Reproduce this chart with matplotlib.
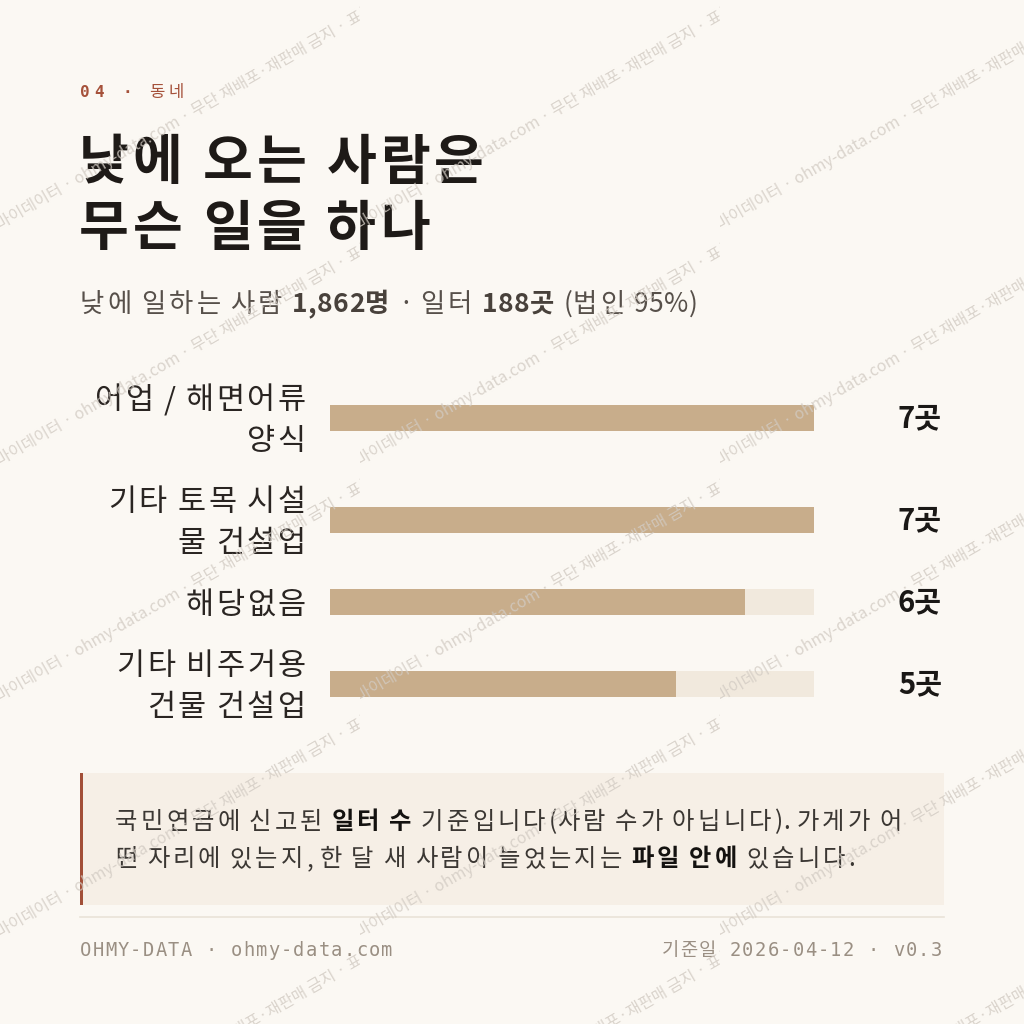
import matplotlib
matplotlib.use('Agg')
import matplotlib.pyplot as plt
from matplotlib.patches import Rectangle
from matplotlib.transforms import Bbox

KR = ['Noto Sans CJK KR', 'DejaVu Sans']
MONO = ['DejaVu Sans Mono', 'Noto Sans CJK KR']

# ---- data ----
section_no = '04'
section_name = '동네'
title_lines = ['낮에 오는 사람은', '무슨 일을 하나']
subtitle_runs = [('낮에 일하는 사람 ', 'normal'), ('1,862명', 'bold'),
                 (' · 일터 ', 'normal'), ('188곳', 'bold'), (' (법인 95%)', 'normal')]
categories = ['어업 / 해면어류\n양식', '기타 토목 시설\n물 건설업', '해당없음', '기타 비주거용\n건물 건설업']
counts = [7, 7, 6, 5]
unit = '곳'
note_lines = [
    [('국민연금에 신고된 ', 'normal'), ('일터 수', 'bold'),
     (' 기준입니다(사람 수가 아닙니다). 가게가 어', 'normal')],
    [('떤 자리에 있는지, 한 달 새 사람이 늘었는지는 ', 'normal'), ('파일 안에', 'bold'),
     (' 있습니다.', 'normal')],
]
footer_left = 'OHMY-DATA · ohmy-data.com'
footer_right = '기준일 2026-04-12 · v0.3'
watermark = '마이데이터 · ohmy-data.com · 무단 재배포·재판매 금지 · 표본'

# ---- colours ----
BG = '#fbf8f3'
RUST = '#a5513a'
INK = '#1e1a17'
TRACK = '#f1e9dd'
FILL = '#c8ad8b'
NOTE_BG = '#f6efe6'
MUTED = '#9a8f83'

fig = plt.figure(figsize=(10.24, 10.24), dpi=100)
fig.patch.set_facecolor(BG)

# full-figure canvas in pixel coordinates (y down)
bg = fig.add_axes([0, 0, 1, 1], zorder=0)
bg.set_xlim(0, 1024)
bg.set_ylim(1024, 0)
bg.axis('off')
bg.patch.set_alpha(0)

renderer = fig.canvas.get_renderer()


def text_width(s, **kw):
    t = bg.text(0, 0, '|' + s + '|', **kw)
    w1 = t.get_window_extent(renderer).width
    t.set_text('||')
    w2 = t.get_window_extent(renderer).width
    t.remove()
    return w1 - w2


def is_hangul(c):
    return '\uac00' <= c <= '\ud7a3'


def draw_runs(x, y, runs, spacing=0, other=None, ha='left', zorder=3, **kw):
    """runs: list of (text, weight, color); letter-spaced, baseline at y"""
    if other is None:
        other = spacing
    chars = []
    for s, wt, col in runs:
        for c in s:
            w = text_width(c, fontweight=wt, **kw)
            chars.append((c, wt, col, w + (spacing if is_hangul(c) else other)))
    total = sum(c[3] for c in chars)
    if ha == 'right':
        x -= total
    for c, wt, col, w in chars:
        bg.text(x, y, c, va='baseline', ha='left', fontweight=wt, color=col,
                zorder=zorder, **kw)
        x += w


# header
draw_runs(80, 97, [(section_no + ' · ', 'bold', RUST)], 4.6, fontsize=11.5, family=MONO)
draw_runs(149, 97, [(section_name, 'normal', RUST)], 4.0, fontsize=12, family=MONO)

# title
for i, line in enumerate(title_lines):
    draw_runs(79, 179 + 66 * i, [(line, 'bold', INK)], 3.9, fontsize=39, family=KR)

# subtitle
sub_cols = {'normal': '#57504a', 'bold': '#48413b'}
draw_runs(80, 312, [(s, w, sub_cols[w]) for s, w in subtitle_runs], 3.3, 0.4,
          fontsize=19, family=KR)

# ---- bars ----
ax = fig.add_axes([330 / 1024, 1 - 735 / 1024, 484 / 1024, 368 / 1024], zorder=1)
ax.patch.set_alpha(0)
ax.axis('off')
heights = [62 + 40 * c.count('\n') for c in categories]
centers = []
acc = 0
for h in heights:
    centers.append(acc + h / 2)
    acc += h
vmax = max(counts)
ax.set_ylim(acc, 0)
ax.set_xlim(0, vmax)
ax.barh(centers, [vmax] * len(counts), height=26, color=TRACK)
ax.barh(centers, counts, height=26, color=FILL)

LABEL_PT = 22
label_em = LABEL_PT * 100 / 72
for cat, v, yc in zip(categories, counts, centers):
    x_disp, y_disp = ax.transData.transform((0, yc))
    y_mid = 1024 - y_disp
    lines = cat.split('\n')
    for k, line in enumerate(lines):
        y_line = y_mid + (k - (len(lines) - 1) / 2) * 41
        draw_runs(x_disp - 22, y_line + 0.38 * label_em, [(line, 'normal', '#2a2522')],
                  2.4, 1.5, ha='right', fontsize=LABEL_PT, family=KR)
    ax.annotate(f'{v}{unit}', xy=(vmax, yc), xytext=(128, 0), textcoords='offset pixels',
                ha='right', va='center', fontsize=21, fontweight='bold', family=KR,
                color='#1a1816', annotation_clip=False)

# ---- note box ----
bg.add_patch(Rectangle((80, 773), 864, 132, facecolor=NOTE_BG, edgecolor='none', zorder=1))
bg.add_patch(Rectangle((80, 773), 3, 132, facecolor='#a24f38', edgecolor='none', zorder=2))
note_cols = {'normal': '#3b3733', 'bold': '#141210'}
for i, runs in enumerate(note_lines):
    draw_runs(115, 829 + 37 * i, [(s, w, note_cols[w]) for s, w in runs], 3.2, 0.6,
              fontsize=17.5, family=KR)

# separator + footer
bg.plot([80, 944], [917, 917], color='#e9e3d8', lw=1.2)
draw_runs(80, 956, [(footer_left, 'normal', MUTED)], 1.3, fontsize=13.5, family=MONO)
draw_runs(943, 956, [(footer_right, 'normal', MUTED)], 1.3, ha='right', fontsize=13.5,
          family=MONO)

# ---- watermark ----
wm = fig.add_axes([0, 0, 1, 1], zorder=10)
wm.set_xlim(0, 1024)
wm.set_ylim(1024, 0)
wm.axis('off')
wm.patch.set_alpha(0)
for col in range(3):
    x0 = 360 * col
    for row in range(-1, 5):
        y0 = 230 + 236 * row
        t = wm.text(x0, y0, watermark, rotation=30, rotation_mode='anchor',
                    ha='left', va='baseline', fontsize=11.5, family=KR,
                    color='#d2cbc3', alpha=0.8)
        t.set_clip_box(Bbox([[x0, 0], [x0 + 360, 1024]]))
        t.set_clip_on(True)

fig.savefig('out.png', dpi=100, facecolor=BG)
